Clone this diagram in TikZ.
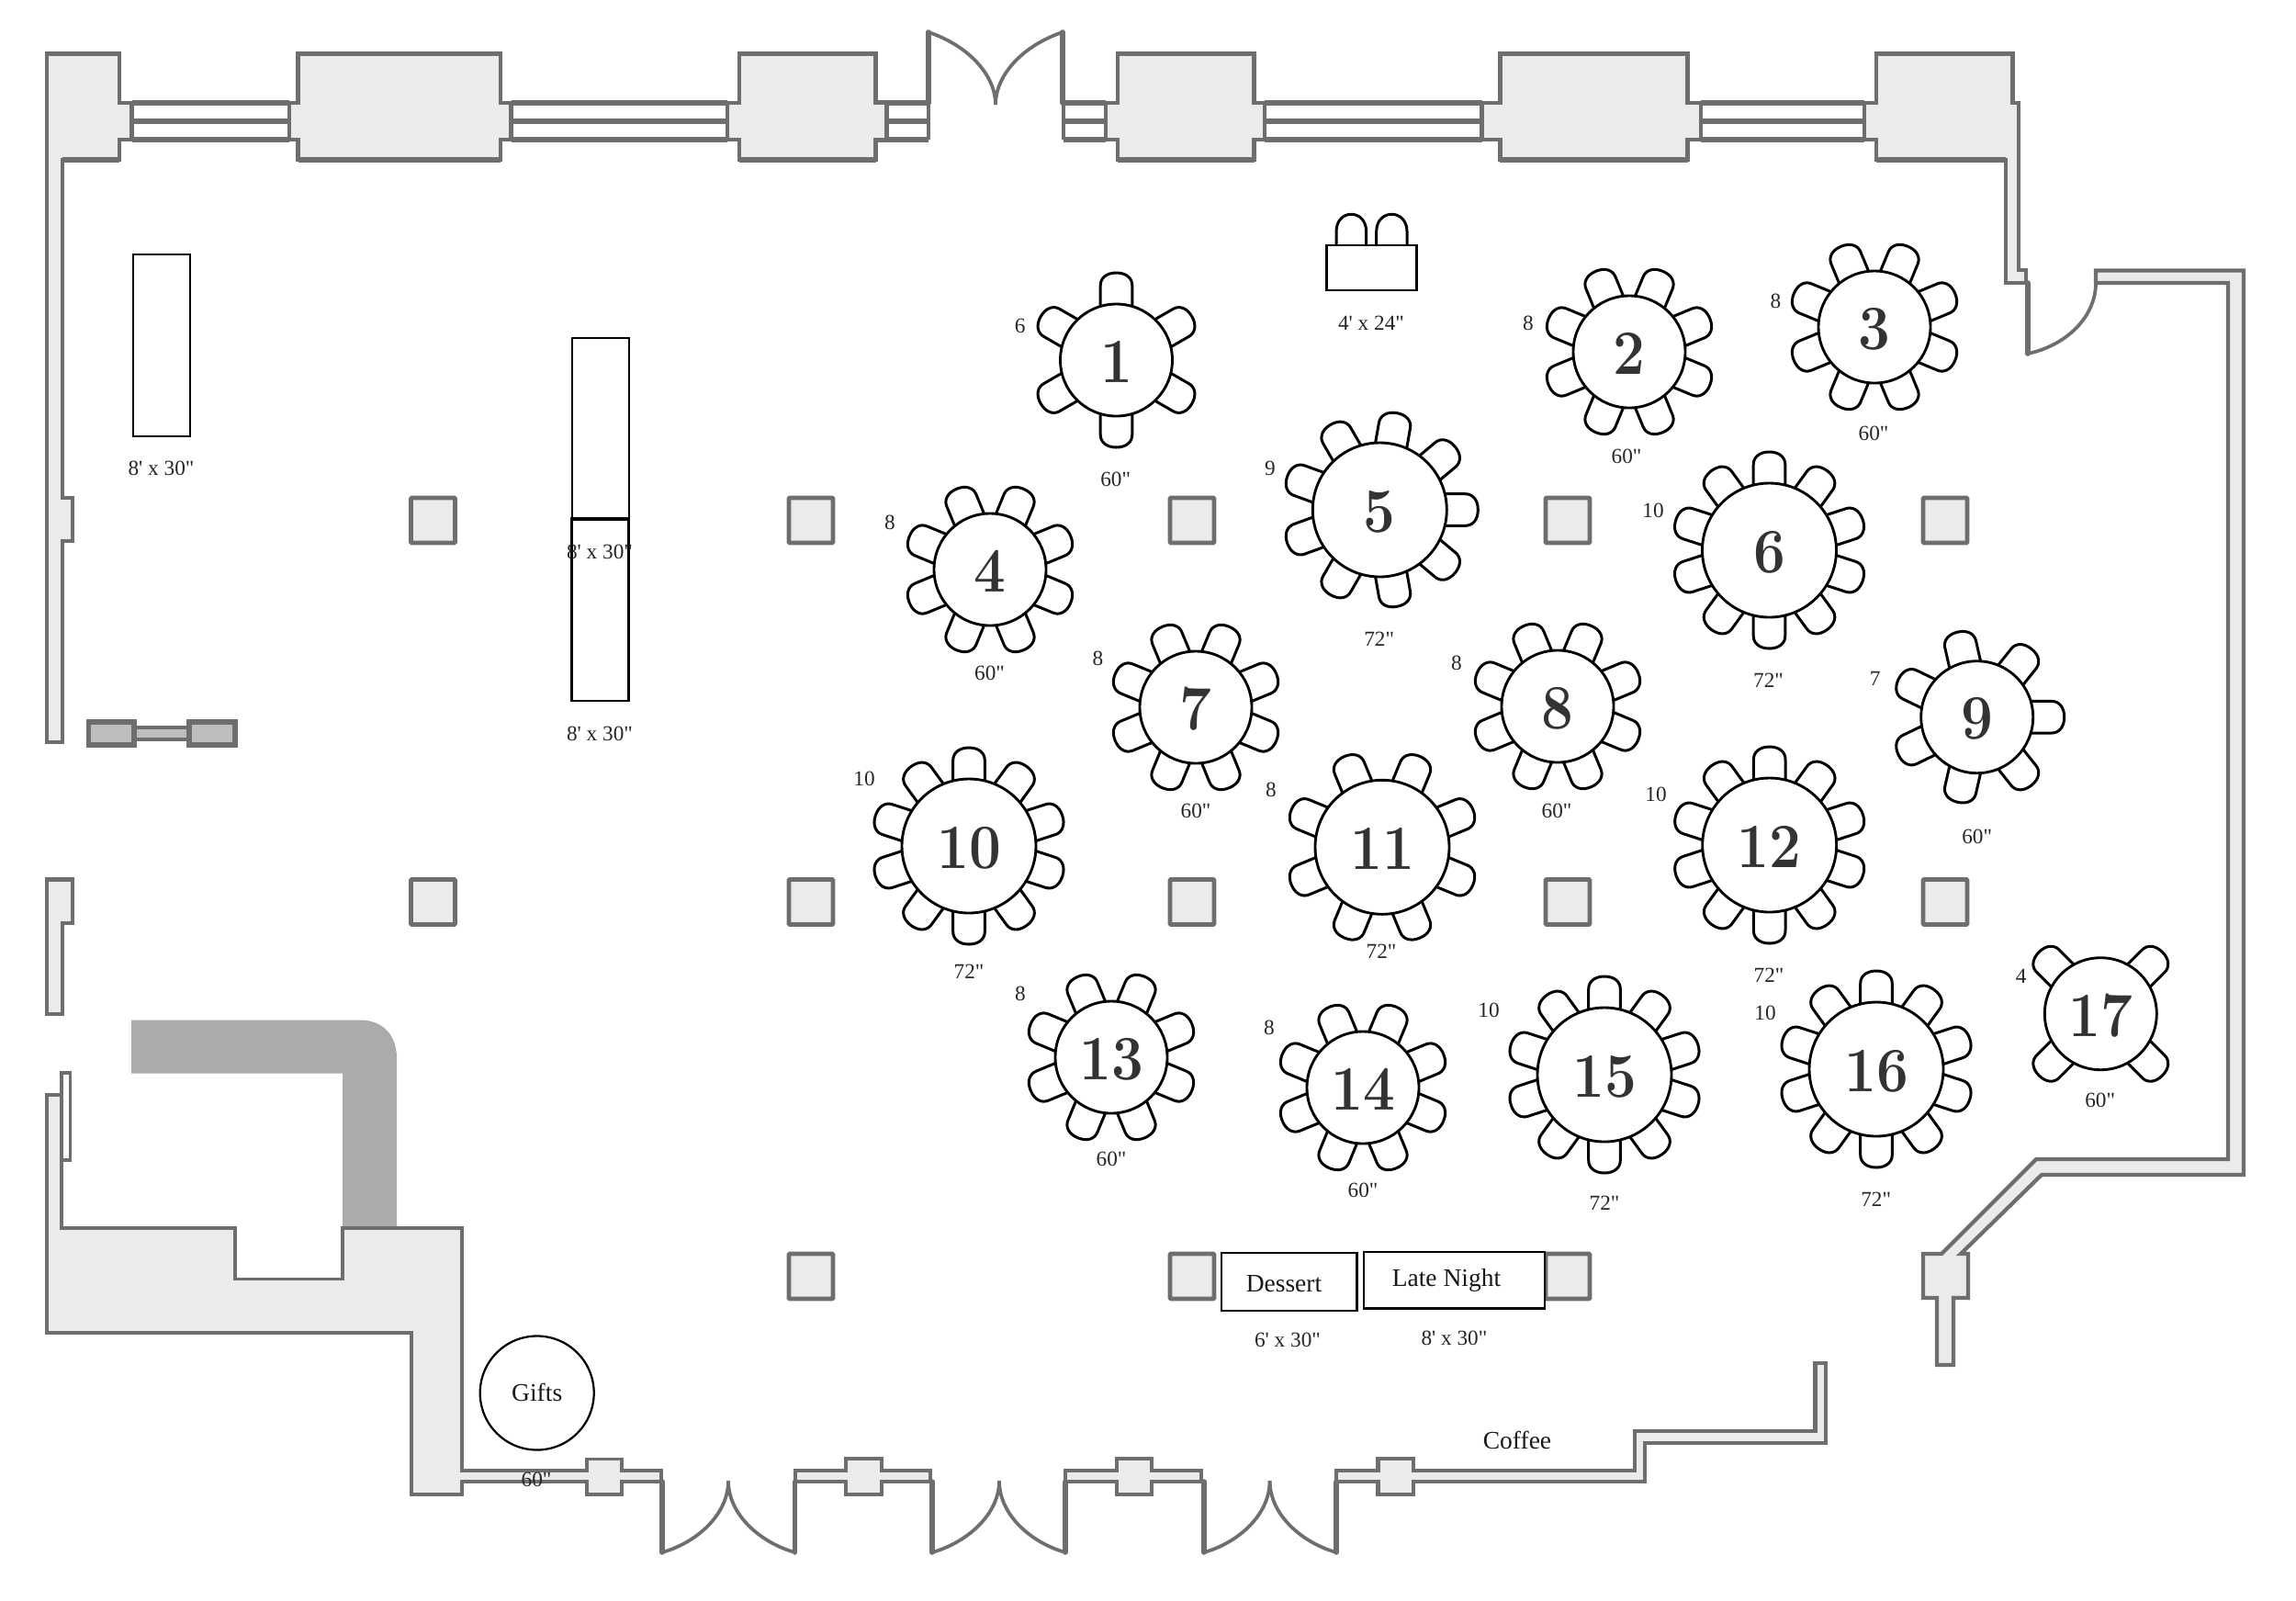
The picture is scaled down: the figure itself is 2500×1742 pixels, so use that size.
\documentclass[tikz,border=0pt]{standalone}
\usepackage{fontspec}
\newfontfamily\labfont{Liberation Serif}
\definecolor{wallc}{HTML}{6E6E6E}
\definecolor{wallf}{HTML}{EBEBEB}
\definecolor{barc}{HTML}{ABABAB}
\definecolor{standf}{HTML}{BEBEBE}
\definecolor{numc}{HTML}{333333}
\tikzset{
  wall/.style={draw=wallc,fill=wallf,line width=1.7pt,line join=miter},
  wline/.style={draw=wallc,line width=2.3pt},
  jamb/.style={draw=wallc,line width=2.2pt,line cap=round},
  swing/.style={draw=wallc,line width=1.5pt},
  col/.style={draw=wallc,fill=wallf,line width=1.9pt,rounded corners=0.4pt},
  chairline/.style={draw=black,line width=1.2pt,fill=white,line join=round},
  tablec/.style={circle,draw=black,fill=white,line width=1.15pt,inner sep=0pt,outer sep=0pt},
  plain/.style={draw=black,fill=white,line width=0.9pt},
  lab/.style={inner sep=0pt,font=\labfont\fontsize{9.3}{10}\selectfont,text=black!85},
  biglab/.style={inner sep=0pt,font=\labfont\fontsize{11}{12}\selectfont,text=black!90}
}
\newcommand\tbl[7]{%
  \foreach \i in {1,...,#5}{%
    \pgfmathsetmacro\ang{#6+(\i-1)*360/#5}%
    \begin{scope}[shift={(#2,#3)},rotate=\ang,x=0.4pt,y=0.4pt]
      \draw[chairline] (#4-2,-17.3) -- (#4+20,-17.3) .. controls (#4+28,-17.5) and (#4+34,-11) .. (#4+34,0)
        .. controls (#4+34,11) and (#4+28,17.5) .. (#4+20,17.3) -- (#4-2,17.3);
    \end{scope}}%
  \node[tablec,minimum size=#4*0.8pt] (#1) at (#2,#3) {};
  \node[inner sep=0pt,text=numc] (#1n) at ([yshift=-0.8pt]#1.center)
    {\fontsize{27.5}{28}\selectfont\bfseries\scalebox{0.9}[1]{#7}};
}
\newcommand\pier[6]{% left ear, pier left, pier right, right ear, top, bottom
  \draw[wall] (#1,112) -- (#2,112) -- (#2,#5) -- (#3,#5) -- (#3,112) -- (#4,112) -- (#4,152)
     -- (#3,152) -- (#3,#6) -- (#2,#6) -- (#2,152) -- (#1,152) -- cycle;
  \draw[wline] (#2,#5) -- (#3,#5) (#2,#6) -- (#3,#6);
}
\newcommand\winlines[2]{\draw[wline] (#1,112) -- (#2,112) (#1,132) -- (#2,132) (#1,152) -- (#2,152);}
\newcommand\bwall[4]{% x0, pillar left, pillar right, x1
  \draw[wall] (#1,1601) -- (#2,1601) -- (#2,1588) -- (#3,1588) -- (#3,1601) -- (#4,1601) -- (#4,1613)
     -- (#3,1613) -- (#3,1627) -- (#2,1627) -- (#2,1613) -- (#1,1613) -- cycle;
}
\newcommand\bdoor[3]{% left, tip, right
  \draw[jamb] (#1,1613) -- (#1,1690);
  \draw[jamb] (#3,1613) -- (#3,1690);
  \draw[swing] (#1,1690) .. controls (#1+36,1680) and (#2,1650) .. (#2,1612);
  \draw[swing] (#3,1690) .. controls (#3-36,1680) and (#2,1650) .. (#2,1612);
}
\begin{document}
\begin{tikzpicture}[x=0.4pt,y=-0.4pt]
\useasboundingbox (0,0) rectangle (2500,1742);
\fill[white] (0,0) rectangle (2500,1742);

% gray L
\fill[barc] (143,1110.5) -- (392,1110.5) .. controls (416,1110.5) and (432,1126) .. (432,1152) -- (432,1337) -- (373,1337) -- (373,1168.5) -- (143,1168.5) -- cycle;

% top windows
\winlines{143.5}{315}
\winlines{556.5}{792}
\winlines{953}{1011}
\winlines{1158}{1204}
\winlines{1377}{1613.5}
\winlines{1852}{2030}

% left wall and first pier
\draw[wall] (50.7,808) -- (50.7,58.5) -- (130,58.5) -- (130,112) -- (143.5,112) -- (143.5,152) -- (130,152) -- (130,174)
   -- (68,174) -- (68,542) -- (79,542) -- (79,589) -- (68,589) -- (68,808) -- cycle;
\draw[wline] (50.7,58.5) -- (130,58.5) (68,174) -- (130,174);
% piers
\pier{315}{324.5}{545}{556.5}{58.5}{174}
\pier{792}{805}{953.5}{965.5}{58.5}{174}
\pier{1204}{1217}{1365.6}{1377}{58.5}{174}
\pier{1613.5}{1633.4}{1837.5}{1852}{58.5}{174}
% last pier and right return
\draw[wall] (2030,112) -- (2043,112) -- (2043,58.5) -- (2191.5,58.5) -- (2191.5,112) -- (2198,112) -- (2198,294) -- (2206,294) -- (2206,308)
   -- (2184,308) -- (2184,174) -- (2043,174) -- (2043,152) -- (2030,152) -- cycle;
\draw[wline] (2043,58.5) -- (2191.5,58.5) (2043,174) -- (2184,174);
% small window ends
\draw[draw=wallc,line width=1.7pt] (1011,112) -- (1011,152) (1158,112) -- (1158,152);
% top double door
\draw[jamb] (1011,112) -- (1011,35);
\draw[jamb] (1157,112) -- (1157,35);
\draw[swing] (1011,35) .. controls (1055,50) and (1084,82) .. (1084,114);
\draw[swing] (1157,35) .. controls (1113,50) and (1084,82) .. (1084,114);
% right door
\draw[jamb] (2208,308) -- (2208,385);
\draw[swing] (2208,385) .. controls (2250,376) and (2282,345) .. (2282,308);
% right wall
\draw[wall] (2282,294.5) -- (2443,294.5) -- (2443,1279) -- (2223,1279) -- (2135,1365) -- (2143,1365) -- (2143,1413) -- (2127,1413) -- (2127,1486)
   -- (2109,1486) -- (2109,1413) -- (2094,1413) -- (2094,1365) -- (2114,1365) -- (2217,1262) -- (2426,1262) -- (2426,308) -- (2282,308) -- cycle;

% lower left walls
\draw[wall] (50.7,957.6) -- (79,957.6) -- (79,1005) -- (68,1005) -- (68,1104) -- (50.7,1104) -- cycle;
\draw[draw=wallc,fill=white,line width=1.5pt] (67,1168) rectangle (76.5,1263);
\draw[wall,line width=1.5pt] (51,1192) -- (67,1192) -- (67,1336.6) -- (256,1336.6) -- (256,1392.4) -- (373,1392.4) -- (373,1336.6) -- (503.3,1336.6)
   -- (503.3,1601) -- (638.7,1601) -- (638.7,1588.5) -- (677,1588.5) -- (677,1601) -- (720,1601) -- (720,1613) -- (677,1613) -- (677,1626.6)
   -- (638.7,1626.6) -- (638.7,1613) -- (503.3,1613) -- (503.3,1626.6) -- (448,1626.6) -- (448,1450.6) -- (51,1450.6) -- cycle;
% stand
\draw[draw=wallc,fill=standf,line width=1.6pt] (146,792) rectangle (206,805);
\draw[draw=wallc,fill=standf,line width=2.2pt] (96.7,786) rectangle (146,811);
\draw[draw=wallc,fill=standf,line width=2.2pt] (206,786) rectangle (256,811);

% bottom walls and doors
\bwall{866}{921}{960}{1013}
\bwall{1160}{1216}{1254}{1308}
\draw[wall] (1455,1601) -- (1500.5,1601) -- (1500.5,1588) -- (1539,1588) -- (1539,1601) -- (1780,1601) -- (1780,1558) -- (1976.6,1558) -- (1976.6,1484)
  -- (1988,1484) -- (1988,1571) -- (1791,1571) -- (1791,1613) -- (1539,1613) -- (1539,1627) -- (1500.5,1627) -- (1500.5,1613) -- (1455,1613) -- cycle;
\bdoor{721}{793}{865.5}
\bdoor{1015}{1088}{1160}
\bdoor{1311}{1382.6}{1455}

% columns
\foreach \cx/\cy in {471.5/566.5,883/566.5,1298/566.5,1707/566.5,2118/566.5,
                     471.5/982,883/982,1298/982,1707/982,2118/982,
                     883/1389.5,1298/1389.5,1707/1389.5}{
  \draw[col] (\cx-24,\cy-24.5) rectangle (\cx+24,\cy+24.5);
}

% rectangular tables
\node[plain,minimum width=24.8pt,minimum height=79pt,inner sep=0pt] (rect1) at (176,376) {};
\node[plain,minimum width=24.8pt,minimum height=79pt,inner sep=0pt] (rect2) at (654,467) {};
\node[plain,minimum width=24.8pt,minimum height=79pt,inner sep=0pt] (rect3) at (653.5,664.5) {};
\draw[black,line width=1.5pt] (rect3.north west) -- (rect3.north east);
\draw[chairline] (1455,268) -- (1455,252) .. controls (1455,227) and (1487.6,227) .. (1487.6,252) -- (1487.6,268);
\draw[chairline] (1498.7,268) -- (1498.7,252) .. controls (1498.7,227) and (1532,227) .. (1532,252) -- (1532,268);
\node[plain,minimum width=39.2pt,minimum height=19.7pt,inner sep=0pt] (rect4) at (1493.5,291.3) {};
\node[plain,minimum width=59.1pt,minimum height=25pt,inner sep=0pt] (dessert) at (1403.5,1395.5) {};
\node[plain,minimum width=78.7pt,minimum height=24.7pt,inner sep=0pt] (late) at (1583.3,1393.5) {};
\node[draw=black,fill=white,line width=0.9pt,circle,minimum size=49.6pt,inner sep=0pt] (gifts) at (584.7,1516.5) {};

% rectangular / misc labels
\node[biglab] (ldes) at (1398,1397.5) {Dessert};
\node[biglab] (llate) at (1575,1394) {Late Night};
\node[biglab] (lcof) at (1652,1568) {Coffee};
\node[biglab] (lgif) at (584.7,1516) {Gifts};
\node[lab] (s60g) at (584,1611) {60"};
\node[lab] (r1) at (175.5,510) {8' x 30"};
\node[lab] (r2) at (653,600.7) {8' x 30"};
\node[lab] (r3) at (653,799) {8' x 30"};
\node[lab] (r4) at (1493,351.7) {4' x 24"};
\node[lab] (r5) at (1402,1459) {6' x 30"};
\node[lab] (r6) at (1583.4,1456.7) {8' x 30"};

% round tables: name, x, y, radius, chairs, first angle, number
\tbl{t1}{1215.5}{392}{61}{6}{30}{1}
\tbl{t2}{1774}{383}{61}{8}{22.5}{2}
\tbl{t3}{2041}{356}{61}{8}{22.5}{3}
\tbl{t4}{1078}{620}{61}{8}{22.5}{4}
\tbl{t5}{1502.3}{555}{73}{9}{0}{5}
\tbl{t6}{1926.5}{599}{73}{10}{18}{6}
\tbl{t7}{1302}{770}{61}{8}{22.5}{7}
\tbl{t8}{1696}{769}{61}{8}{22.5}{8}
\tbl{t9}{2152.7}{780.7}{61}{7}{0}{9}
\tbl{t10}{1055}{921}{73}{10}{18}{10}
\tbl{t11}{1505}{922.3}{73}{8}{22.5}{11}
\tbl{t12}{1926.7}{920}{73}{10}{18}{12}
\tbl{t13}{1210}{1151}{61}{8}{22.5}{13}
\tbl{t14}{1484}{1184}{61}{8}{22.5}{14}
\tbl{t15}{1747}{1170}{73}{10}{18}{15}
\tbl{t16}{2043}{1164}{73}{10}{18}{16}
\tbl{t17}{2287.3}{1103.7}{61}{4}{45}{17}

% seat counts and diameters
\foreach \nm/\x/\y/\t in {a/1110.6/355/6,b/1664/352/8,c/1933.5/328/8,d/1383/510/9,e/969/569/8,f/1800/556/10,g/1195.5/717/8,h/1586/722/8,
  i/2041.7/739/7,j/941/848/10,k/1384/860/8,l/1803/865/10,m/1111/1082/8,n/1382/1119/8,o/1621/1100/10,p/1922/1103/10,q/2200.7/1062.7/4}{
  \node[lab] (cnt\nm) at (\x,\y) {\t};
}
\foreach \nm/\x/\y/\t in {a/1214.7/522/60,b/1771/497/60,c/2040/472/60,d/1501.7/695.7/72,e/1077.5/733/60,f/1925.5/741/72,g/1302/883/60,h/1695/883/60,
  i/2152.7/910.7/60,j/1055/1058/72,k/1504/1036/72,l/1926/1061.7/72,m/1210/1262/60,n/1484/1296/60,o/1747/1310/72,p/2042.7/1305.7/72,q/2286.7/1197.7/60}{
  \node[lab] (dia\nm) at (\x,\y) {\t"};
}
\end{tikzpicture}
\end{document}
